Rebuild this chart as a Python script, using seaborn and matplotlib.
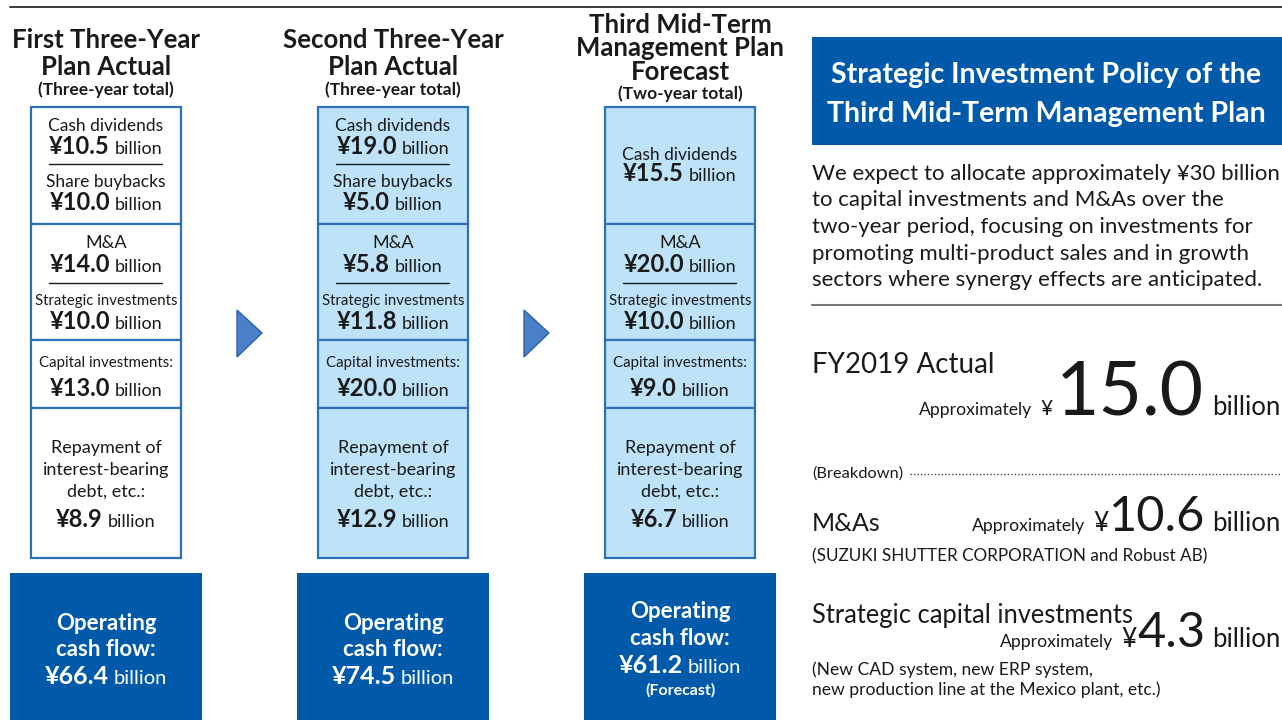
import matplotlib
matplotlib.use('Agg')
import matplotlib.pyplot as plt
from matplotlib.patches import Rectangle, Polygon
import seaborn as sns

# ---- data ----
plan_titles = ["First Three-Year\nPlan Actual",
               "Second Three-Year\nPlan Actual",
               "Third Mid-Term\nManagement Plan\nForecast"]
plan_periods = ["(Three-year total)", "(Three-year total)", "(Two-year total)"]
cash_dividends = [10.5, 19.0, 15.5]
share_buybacks = [10.0, 5.0, None]
mna = [14.0, 5.8, 20.0]
strategic_inv = [10.0, 11.8, 10.0]
capital_inv = [13.0, 20.0, 9.0]
debt_repayment = [8.9, 12.9, 6.7]
operating_cf = [66.4, 74.5, 61.2]
is_forecast = [False, False, True]

fy2019_total = 15.0
fy2019_mna = 10.6
fy2019_strategic = 4.3

policy_title = "Strategic Investment Policy of the\nThird Mid-Term Management Plan"
policy_text = ["We expect to allocate approximately \u00a530 billion",
               "to capital investments and M&As over the",
               "two-year period, focusing on investments for",
               "promoting multi-product sales and in growth",
               "sectors where synergy effects are anticipated."]

# ---- style ----
BLUE = '#0059A9'
BORDER = '#2D70B8'
LIGHT = '#BEE3F8'
INK = '#1A1A1A'
MAIN = ['Lato', 'DejaVu Sans']

sns.set_theme(style='white')
plt.rcParams['font.family'] = MAIN

fig = plt.figure(figsize=(12.82, 7.2), dpi=100)
ax = fig.add_axes([0, 0, 1, 1])
ax.set_xlim(0, 1282)
ax.set_ylim(720, 0)
ax.axis('off')
renderer = fig.canvas.get_renderer()


def rich(x, y, parts, ha='center'):
    """Draw text pieces of different sizes on one baseline."""
    texts, widths = [], []
    for s, kw, gap in parts:
        t = ax.text(0, y, s, va='baseline', ha='left', color=kw.pop('color', INK), **kw)
        texts.append(t)
        widths.append(t.get_window_extent(renderer).width + gap)
    total = sum(widths)
    start = {'center': x - total / 2, 'right': x - total, 'left': x}[ha]
    for t, w in zip(texts, widths):
        t.set_x(start)
        start += w


def amount(x, y, v, big=17, small=13, color=INK):
    rich(x, y, [(f"\u00a5{v:.1f}", dict(fontsize=big, fontweight='bold', color=color), 5),
                ("billion", dict(fontsize=small, color=color), 0)])


def label(x, y, s, size=12.5):
    ax.text(x, y, s, ha='center', va='baseline', fontsize=size, color=INK)


# top rule
ax.plot([10, 1282], [7, 7], color=INK, lw=1.2)

col_left = [31, 318, 605]
box_w = 150
dividers = [107, 224, 340, 408, 558]

for i in range(3):
    x0 = col_left[i]
    cx = x0 + box_w / 2
    fill = 'white' if i == 0 else LIGHT

    # headings
    lines = plan_titles[i].split('\n')
    if len(lines) == 2:
        base = [48, 75]
        sub_y = 95
    else:
        base = [33, 56, 80]
        sub_y = 99
    for ln, by in zip(lines, base):
        ax.text(cx, by, ln, ha='center', va='baseline', fontsize=18.5, fontweight='bold', color=INK)
    ax.text(cx, sub_y, plan_periods[i], ha='center', va='baseline', fontsize=12.5,
            fontweight='bold', color=INK)

    # stacked use-of-funds box
    for top, bot in zip(dividers[:-1], dividers[1:]):
        ax.add_patch(Rectangle((x0, top), box_w, bot - top, facecolor=fill,
                               edgecolor=BORDER, lw=1.6))

    if share_buybacks[i] is not None:
        label(cx, 131, "Cash dividends")
        amount(cx, 154, cash_dividends[i])
        ax.plot([x0 + 18, x0 + 131], [164, 164], color=INK, lw=1)
        label(cx, 187, "Share buybacks")
        amount(cx, 210, share_buybacks[i])
    else:
        label(cx, 160, "Cash dividends")
        amount(cx, 181, cash_dividends[i])

    label(cx, 248, "M&A", size=13)
    amount(cx, 272, mna[i])
    ax.plot([x0 + 18, x0 + 131], [283, 283], color=INK, lw=1)
    label(cx, 305, "Strategic investments", size=10.8)
    amount(cx, 329, strategic_inv[i])

    label(cx, 367, "Capital investments:", size=10.8)
    amount(cx, 396, capital_inv[i])

    for ln, by in zip(["Repayment of", "interest-bearing", "debt, etc.:"], [453, 475, 497]):
        label(cx, by, ln, size=13)
    amount(cx, 527, debt_repayment[i])

    # operating cash flow box
    ax.add_patch(Rectangle((x0 - 21, 573), 192, 150, facecolor=BLUE, edgecolor='none'))
    if is_forecast[i]:
        ob = [618, 645, 673]
    else:
        ob = [630, 656, 684]
    ax.text(cx, ob[0], "Operating", ha='center', va='baseline', fontsize=16,
            fontweight='bold', color='white')
    ax.text(cx, ob[1], "cash flow:", ha='center', va='baseline', fontsize=16,
            fontweight='bold', color='white')
    amount(cx, ob[2], operating_cf[i], big=18, small=14.5, color='white')
    if is_forecast[i]:
        ax.text(cx, 695, "(Forecast)", ha='center', va='baseline', fontsize=11.5,
                fontweight='bold', color='white')

    # arrow to next column
    if i < 2:
        ax0 = x0 + 206
        ax.add_patch(Polygon([(ax0, 310), (ax0 + 25, 333), (ax0, 357)], closed=True,
                             facecolor='#4A80C5', edgecolor='#2E63A8', lw=1))

# ---- right panel ----
ax.add_patch(Rectangle((812, 37), 470, 108, facecolor=BLUE, edgecolor='none'))
for ln, by in zip(policy_title.split('\n'), [83, 122]):
    ax.text(1046, by, ln, ha='center', va='baseline', fontsize=20.5, fontweight='bold',
            color='white')

for k, ln in enumerate(policy_text):
    ax.text(812, 180 + 26.5 * k, ln, ha='left', va='baseline', fontsize=16, color=INK)
ax.plot([812, 1282], [305, 305], color='#777777', lw=1.5)

ax.text(812, 373, "FY2019 Actual", ha='left', va='baseline', fontsize=20, color=INK)
rich(1280, 415, [("Approximately", dict(fontsize=12.7), 8),
                 ("\u00a5", dict(fontsize=15), 3),
                 (f"{fy2019_total:.1f}", dict(fontsize=54), 8),
                 ("billion", dict(fontsize=18.5), 0)], ha='right')

ax.text(812, 478, "(Breakdown)", ha='left', va='baseline', fontsize=11.8, color=INK)
ax.plot([910, 1282], [474, 474], color='#444444', lw=1, ls=(0, (1, 1.5)))

ax.text(812, 531, "M&As", ha='left', va='baseline', fontsize=18, color=INK)
rich(1280, 531, [("Approximately", dict(fontsize=12.7), 8),
                 ("\u00a5", dict(fontsize=19), 1),
                 (f"{fy2019_mna:.1f}", dict(fontsize=35), 6),
                 ("billion", dict(fontsize=18.5), 0)], ha='right')
ax.text(812, 561, "(SUZUKI SHUTTER CORPORATION and Robust AB)", ha='left', va='baseline',
        fontsize=12.3, color=INK)

ax.text(812, 623, "Strategic capital investments", ha='left', va='baseline', fontsize=18.4,
        color=INK)
rich(1280, 647, [("Approximately", dict(fontsize=12.7), 8),
                 ("\u00a5", dict(fontsize=19), 1),
                 (f"{fy2019_strategic:.1f}", dict(fontsize=35), 6),
                 ("billion", dict(fontsize=18.5), 0)], ha='right')
ax.text(812, 675, "(New CAD system, new ERP system,", ha='left', va='baseline',
        fontsize=12.6, color=INK)
ax.text(812, 695, "new production line at the Mexico plant, etc.)", ha='left', va='baseline',
        fontsize=12.6, color=INK)

fig.savefig('out.png', dpi=100)
